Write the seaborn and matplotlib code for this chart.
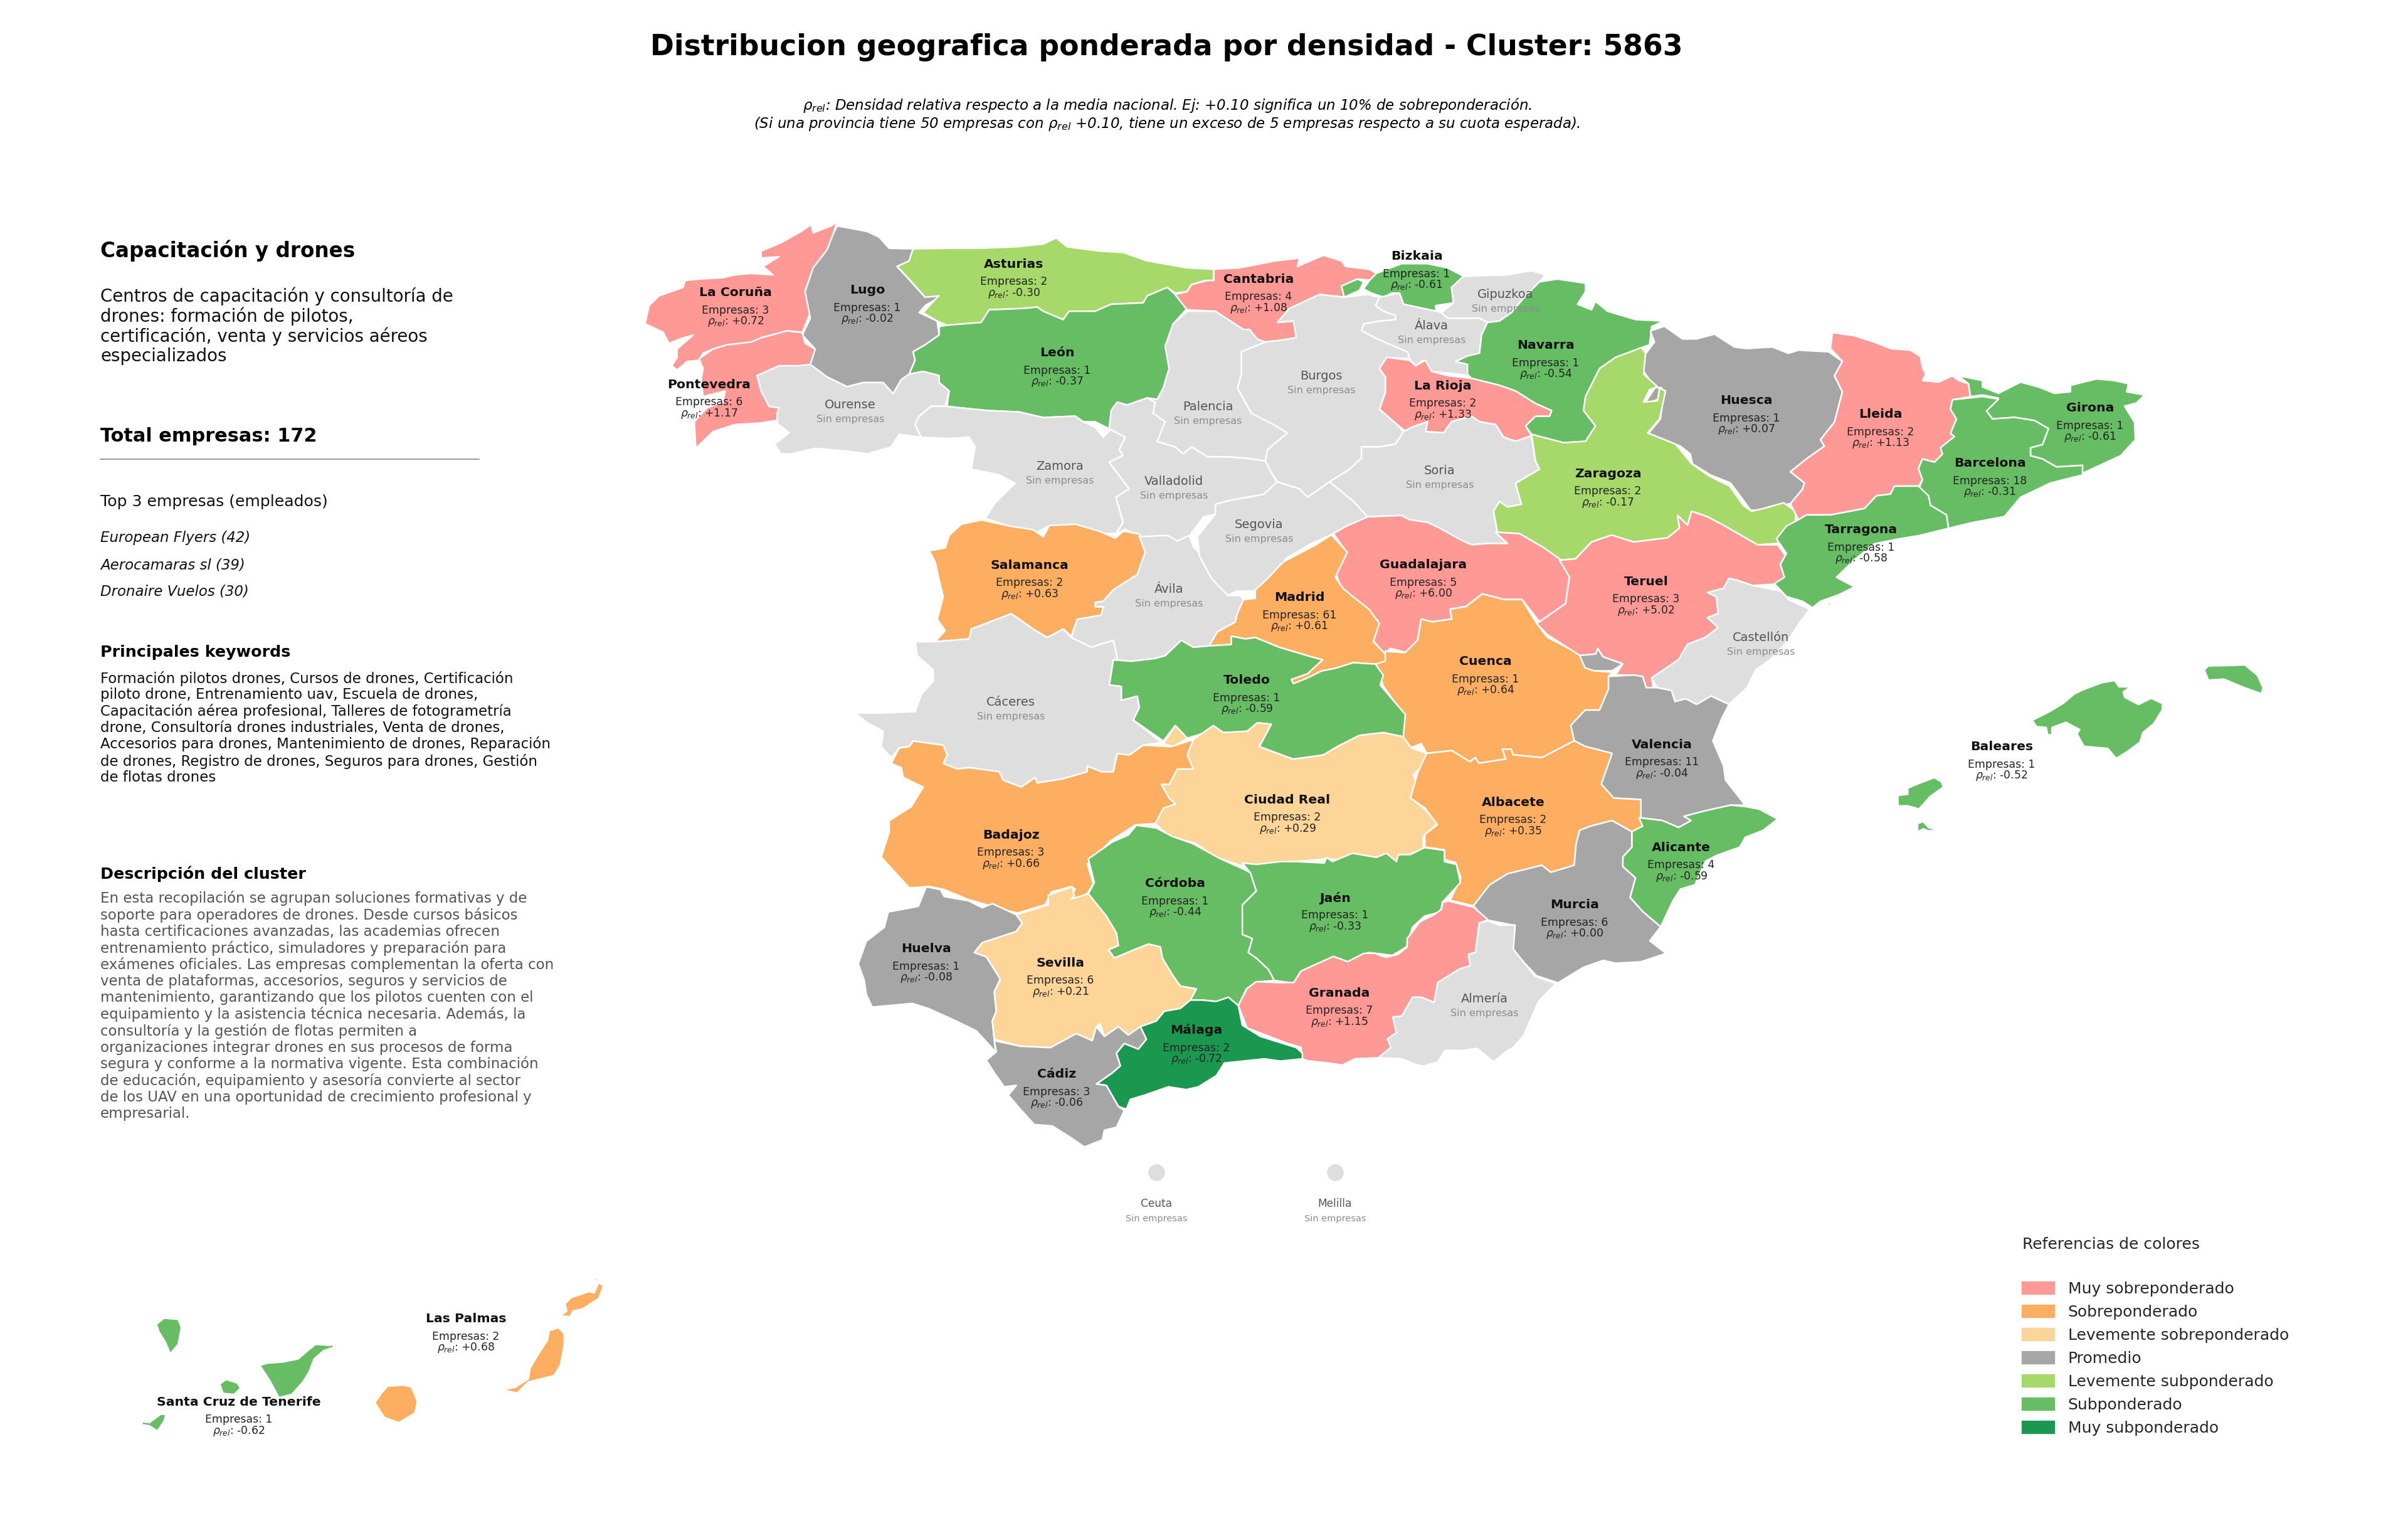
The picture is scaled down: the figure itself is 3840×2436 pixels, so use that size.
"""Distribucion geografica ponderada por densidad - Cluster 5863"""
import matplotlib.pyplot as plt
import matplotlib.patches as mpatches
import pandas as pd
import seaborn as sns

# Provinces, companies, relative density and colour class
provincias = ["La Coruña", "Lugo", "Asturias", "León", "Pontevedra", "Ourense", "Zamora", "Valladolid",
              "Palencia", "Salamanca", "Ávila", "Cantabria", "Bizkaia", "Gipuzkoa", "Álava", "Burgos",
              "Navarra", "La Rioja", "Huesca", "Soria", "Zaragoza", "Segovia", "Guadalajara", "Madrid",
              "Teruel", "Lleida", "Girona", "Barcelona", "Tarragona", "Castellón", "Baleares", "Valencia",
              "Cuenca", "Toledo", "Cáceres", "Ciudad Real", "Badajoz", "Albacete", "Alicante", "Murcia",
              "Almería", "Córdoba", "Jaén", "Huelva", "Sevilla", "Granada", "Málaga", "Cádiz",
              "Las Palmas", "Santa Cruz de Tenerife", "Ceuta", "Melilla"]
empresas = [3, 1, 2, 1, 6, 0, 0, 0,
            0, 2, 0, 4, 1, 0, 0, 0,
            1, 2, 1, 0, 2, 0, 5, 61,
            3, 2, 1, 18, 1, 0, 1, 11,
            1, 1, 0, 2, 3, 2, 4, 6,
            0, 1, 1, 1, 6, 7, 2, 3,
            2, 1, 0, 0]
rho = [0.72, -0.02, -0.30, -0.37, 1.17, None, None, None,
       None, 0.63, None, 1.08, -0.61, None, None, None,
       -0.54, 1.33, 0.07, None, -0.17, None, 6.00, 0.61,
       5.02, 1.13, -0.61, -0.31, -0.58, None, -0.52, -0.04,
       0.64, -0.59, None, 0.29, 0.66, 0.35, -0.59, 0.00,
       None, -0.44, -0.33, -0.08, 0.21, 1.15, -0.72, -0.06,
       0.68, -0.62, None, None]
clases = ["Muy sobreponderado", "Promedio", "Levemente subponderado", "Subponderado", "Muy sobreponderado",
          None, None, None,
          None, "Sobreponderado", None, "Muy sobreponderado", "Subponderado", None, None, None,
          "Subponderado", "Muy sobreponderado", "Promedio", None, "Levemente subponderado", None,
          "Muy sobreponderado", "Sobreponderado",
          "Muy sobreponderado", "Muy sobreponderado", "Subponderado", "Subponderado", "Subponderado", None,
          "Subponderado", "Promedio",
          "Sobreponderado", "Subponderado", None, "Levemente sobreponderado", "Sobreponderado",
          "Sobreponderado", "Subponderado", "Promedio",
          None, "Subponderado", "Subponderado", "Promedio", "Levemente sobreponderado",
          "Muy sobreponderado", "Muy subponderado", "Promedio",
          "Sobreponderado", "Subponderado", None, None]

clases_leyenda = ["Muy sobreponderado", "Sobreponderado", "Levemente sobreponderado", "Promedio",
                  "Levemente subponderado", "Subponderado", "Muy subponderado"]
colores = ["#ff9996", "#fdae61", "#fed598", "#a6a6a6", "#a6d96a", "#66bd63", "#1a9850"]
color_sin = "#dedede"

top_empresas = ["European Flyers (42)", "Aerocamaras sl (39)", "Dronaire Vuelos (30)"]
descripcion_corta = ["Centros de capacitación y consultoría de", "drones: formación de pilotos,",
                     "certificación, venta y servicios aéreos", "especializados"]
keywords = ["Formación pilotos drones, Cursos de drones, Certificación",
            "piloto drone, Entrenamiento uav, Escuela de drones,",
            "Capacitación aérea profesional, Talleres de fotogrametría",
            "drone, Consultoría drones industriales, Venta de drones,",
            "Accesorios para drones, Mantenimiento de drones, Reparación",
            "de drones, Registro de drones, Seguros para drones, Gestión",
            "de flotas drones"]
descripcion = ["En esta recopilación se agrupan soluciones formativas y de",
               "soporte para operadores de drones. Desde cursos básicos",
               "hasta certificaciones avanzadas, las academias ofrecen",
               "entrenamiento práctico, simuladores y preparación para",
               "exámenes oficiales. Las empresas complementan la oferta con",
               "venta de plataformas, accesorios, seguros y servicios de",
               "mantenimiento, garantizando que los pilotos cuenten con el",
               "equipamiento y la asistencia técnica necesaria. Además, la",
               "consultoría y la gestión de flotas permiten a",
               "organizaciones integrar drones en sus procesos de forma",
               "segura y conforme a la normativa vigente. Esta combinación",
               "de educación, equipamiento y asesoría convierte al sector",
               "de los UAV en una oportunidad de crecimiento profesional y",
               "empresarial."]

# Label anchor (pixels of the 3840x2436 picture)
etiquetas = {"La Coruña": (1173, 464), "Lugo": (1383, 460), "Asturias": (1617, 419), "León": (1686, 560),
             "Pontevedra": (1131, 611), "Ourense": (1356, 643), "Zamora": (1690, 741), "Valladolid": (1872, 765),
             "Palencia": (1926, 646), "Salamanca": (1642, 899), "Ávila": (1864, 937), "Cantabria": (2007, 443),
             "Bizkaia": (2259, 406), "Gipuzkoa": (2401, 467), "Álava": (2283, 517), "Burgos": (2107, 597),
             "Navarra": (2465, 548), "La Rioja": (2301, 613), "Huesca": (2785, 636), "Soria": (2296, 748),
             "Zaragoza": (2564, 753), "Segovia": (2008, 834), "Guadalajara": (2270, 898), "Madrid": (2072, 950),
             "Teruel": (2625, 925), "Lleida": (2999, 658), "Girona": (3333, 648), "Barcelona": (3173, 736),
             "Tarragona": (2968, 842), "Castellón": (2808, 1014), "Baleares": (3192, 1188), "Valencia": (2650, 1185),
             "Cuenca": (2369, 1052), "Toledo": (1988, 1082), "Cáceres": (1612, 1117), "Ciudad Real": (2053, 1273),
             "Badajoz": (1612, 1329), "Albacete": (2413, 1277), "Alicante": (2681, 1349), "Murcia": (2511, 1440),
             "Almería": (2367, 1590), "Córdoba": (1874, 1406), "Jaén": (2129, 1429), "Huelva": (1477, 1510),
             "Sevilla": (1691, 1533), "Granada": (2136, 1581), "Málaga": (1908, 1640), "Cádiz": (1685, 1710),
             "Las Palmas": (743, 2100), "Santa Cruz de Tenerife": (381, 2233), "Ceuta": (1844, 1917),
             "Melilla": (2129, 1917)}
ciudades_x = [1844, 2129]
ciudades_y = [1869, 1869]

# Outlines were traced on enlarged sections of the map, each with its own origin and scale
NO = (1000, 320, 0.638, 0.446)
NE = (1900, 320, 0.638, 0.446)
CAT = (2600, 520, 0.638, 0.51)
CEN = (1300, 800, 0.638, 0.446)
LEV = (2100, 900, 0.574, 0.446)
SUR = (1340, 1300, 0.638, 0.446)
SE = (2000, 1300, 0.574, 0.333)
BAL = (3000, 1000, 0.446, 0.333)
CAN = (200, 1990, 0.51, 0.333)


def trace(sec, pts):
    x0, y0, sx, sy = sec
    return [(x0 + a * sx, y0 + b * sy) for a, b in pts]


contornos = {
    "La Coruña": [trace(NO, [(525,75),(515,120),(500,175),(480,235),(462,262),(445,320),(458,400),(438,470),(400,465),(335,490),(310,508),(250,515),(215,530),(190,545),(180,570),(150,575),(125,605),(112,590),(125,560),(125,530),(165,480),(130,495),(105,510),(90,470),(45,440),(55,375),(80,340),(140,310),(145,285),(180,280),(240,275),(270,265),(310,260),(365,265),(340,235),(380,200),(335,205),(335,180),(385,150),(435,110),(460,85),(465,115),(510,90)])],
    "Pontevedra": [trace(NO, [(438,472),(445,510),(470,530),(458,585),(430,590),(380,590),(325,625),(335,680),(355,735),(380,740),(375,785),(330,795),(270,800),(215,825),(172,885),(168,790),(200,740),(240,720),(245,680),(190,700),(185,640),(190,600),(180,565),(215,530),(250,515),(310,505),(335,490),(400,465)])],
    "Lugo": [trace(NO, [(525,90),(545,95),(600,110),(630,130),(655,170),(715,172),(705,215),(675,235),(710,290),(745,345),(775,330),(780,345),(745,375),(730,400),(775,430),(780,480),(745,515),(715,540),(720,570),(705,620),(685,640),(665,690),(640,650),(590,650),(550,665),(500,630),(460,610),(458,585),(470,530),(438,480),(458,420),(445,325),(465,240),(500,175),(515,120)])],
    "Asturias": [trace(NO, [(715,172),(800,170),(880,170),(970,165),(1040,155),(1073,133),(1100,165),(1180,180),(1240,185),(1300,215),(1400,240),(1467,245),(1465,285),(1445,285),(1410,300),(1400,325),(1370,330),(1350,310),(1300,340),(1290,365),(1210,370),(1170,395),(1105,395),(1090,425),(1040,395),(1025,380),(990,385),(905,390),(885,435),(800,445),(775,430),(740,400),(775,345),(780,340),(745,345),(705,280),(675,235),(705,215)])],
    "León": [trace(NO, [(1370,335),(1400,385),(1365,440),(1345,520),(1355,600),(1340,670),(1325,710),(1300,705),(1250,730),(1225,720),(1210,750),(1205,815),(1170,790),(1140,790),(1120,770),(1040,775),(980,755),(900,750),(800,735),(805,680),(780,650),(780,625),(740,610),(705,620),(720,570),(715,540),(745,515),(780,480),(780,450),(800,445),(885,435),(905,390),(990,385),(1025,380),(1040,395),(1090,425),(1105,395),(1170,395),(1210,370),(1290,365),(1300,340),(1350,310)])],
    "Ourense": [trace(NO, [(458,585),(500,630),(550,665),(590,650),(640,650),(665,690),(685,640),(705,620),(740,610),(780,625),(780,650),(805,680),(795,735),(760,735),(730,770),(720,800),(735,845),(680,835),(660,880),(600,905),(550,895),(470,885),(410,905),(385,905),(368,870),(405,830),(375,795),(375,760),(380,740),(355,735),(335,680),(325,625),(380,590),(430,590)])],
    "Zamora": [trace(NO, [(795,735),(900,750),(980,755),(1040,775),(1120,770),(1140,790),(1170,810),(1190,845),(1210,815),(1245,845),(1230,890),(1240,910),(1205,935),(1255,1030),(1222,1060),(1240,1150),(1222,1190),(1185,1190),(1170,1180),(1100,1170),(1050,1165),(1020,1190),(970,1170),(895,1135),(920,1080),(970,1010),(930,980),(860,960),(870,880),(855,845),(800,850),(735,845),(720,800),(730,770),(760,735)])],
    "Valladolid": [trace(NO, [(1205,815),(1210,750),(1225,720),(1250,730),(1300,705),(1320,720),(1315,760),(1345,790),(1325,860),(1370,880),(1390,905),(1411,880),(1451,915),(1500,915),(1546,920),(1596,930),(1606,960),(1626,1010),(1590,1050),(1511,1070),(1471,1085),(1471,1120),(1441,1130),(1410,1190),(1408,1230),(1360,1215),(1285,1200),(1245,1175),(1222,1190),(1240,1150),(1222,1060),(1255,1030),(1205,935),(1240,910),(1230,890),(1245,845)])],
    "Palencia": [trace(NO, [(1400,395),(1450,395),(1510,395),(1540,420),(1568,470),(1575,490),(1596,505),(1536,540),(1536,620),(1526,670),(1561,760),(1601,770),(1616,800),(1651,830),(1601,890),(1596,930),(1546,920),(1500,915),(1451,915),(1411,880),(1390,905),(1370,880),(1325,860),(1345,790),(1315,760),(1320,720),(1300,705),(1325,710),(1340,670),(1355,600),(1345,520),(1365,440)])],
    "Cantabria": [trace(NE, [(56,245),(120,240),(210,215),(270,205),(265,235),(330,195),(375,215),(385,235),(445,245),(462,260),(455,285),(415,280),(375,305),(382,345),(320,335),(245,385),(215,435),(255,430),(262,490),(215,500),(185,505),(165,495),(145,460),(130,460),(60,395),(-11,390),(-41,335),(-11,325),(0,300),(40,285),(56,285)])],
    "Burgos": [trace(NE, [(320,335),(382,345),(440,335),(470,345),(460,375),(480,395),(510,410),(510,425),(470,430),(430,440),(425,465),(465,495),(490,510),(540,540),(545,565),(490,560),(470,600),(485,630),(485,685),(470,745),(510,795),(530,825),(510,870),(470,880),(425,880),(425,920),(395,960),(345,1005),(290,1060),(270,1030),(215,1005),(195,960),(185,930),(190,890),(240,830),(205,800),(150,760),(115,670),(125,620),(125,540),(185,505),(215,500),(262,490),(255,430),(215,435),(245,385)])],
    "Bizkaia": [trace(NE, [(462,260),(525,225),(590,225),(640,240),(680,270),(650,310),(655,365),(610,375),(612,395),(530,370),(520,330),(500,330),(480,345),(450,330),(430,315),(445,285)]),
                trace(NE, [(375,305),(415,280),(430,290),(420,320),(382,345)]),
                trace(NE, [(485,400),(495,390),(510,405),(495,412)])],
    "Gipuzkoa": [trace(NE, [(680,270),(790,265),(850,250),(885,265),(870,290),(835,340),(800,400),(770,430),(740,435),(720,420),(640,420),(625,400),(655,365),(650,310)])],
    "Álava": [trace(NE, [(470,345),(520,330),(530,370),(612,395),(625,400),(640,420),(720,420),(740,435),(725,480),(720,545),(690,560),(660,575),(690,585),(690,625),(670,620),(600,610),(580,570),(560,590),(545,565),(490,510),(465,495),(425,465),(430,440),(470,430),(510,425),(510,410),(480,395),(460,375)])],
    "Navarra": [trace(NE, [(870,290),(915,280),(985,295),(985,325),(965,370),(1000,390),(1010,360),(1040,395),(1110,425),(1180,430),(1150,450),(1145,515),(1125,525),(1060,560),(1020,600),(985,700),(980,750),(1010,805),(985,860),(930,865),(850,835),(835,805),(860,770),(895,770),(900,750),(860,725),(810,680),(770,660),(700,635),(690,620),(690,585),(660,575),(690,555),(720,545),(725,480),(740,435),(770,430),(800,400),(835,340)])],
    "La Rioja": [trace(NE, [(488,560),(545,570),(560,590),(585,570),(600,610),(640,625),(700,635),(770,660),(810,680),(860,725),(900,750),(895,770),(860,770),(835,805),(850,840),(810,860),(780,845),(760,800),(720,790),(700,770),(650,790),(630,830),(585,825),(590,790),(550,810),(535,825),(510,795),(470,745),(485,685),(485,630),(470,600)])],
    "Soria": [trace(NE, [(530,825),(550,810),(590,790),(585,825),(630,830),(650,790),(700,770),(720,790),(760,800),(780,845),(810,860),(850,840),(860,930),(870,960),(810,1010),(825,1085),(790,1095),(770,1075),(755,1110),(765,1185),(790,1225),(740,1225),(700,1230),(670,1210),(620,1170),(590,1150),(545,1140),(525,1125),(440,1130),(405,1075),(345,1005),(395,960),(425,920),(425,880),(470,880),(510,870)])],
    "Segovia": [trace(NE, [(215,1005),(270,1030),(290,1060),(345,1005),(405,1075),(440,1130),(385,1165),(355,1190),(300,1225),(235,1280),(215,1345),(160,1395),(115,1395),(90,1410),(50,1350),(20,1270),(15,1200),(60,1120),(60,1085),(100,1070),(180,1050)])],
    "Guadalajara": [trace(NE, [(355,1190),(385,1165),(440,1130),(525,1125),(545,1140),(590,1150),(620,1170),(670,1210),(700,1230),(740,1225),(790,1225),(760,1185),(820,1190),(880,1240),(920,1280),(945,1345),(935,1440),(870,1505),(826,1425),(781,1425),(727,1405),(686,1450),(646,1460),(650,1495),(601,1505),(574,1495),(565,1570),(538,1615),(497,1600),(484,1620),(452,1570),(466,1500),(421,1450),(375,1385),(360,1330),(385,1250)])],
    "Teruel": [trace(NE, [(920,1285),(960,1280),(1000,1220),(1050,1195),(1105,1220),(1190,1205),(1220,1170),(1215,1125),(1240,1160),(1250,1110),(1290,1130),(1330,1160),(1415,1230),(1465,1230),(1485,1270)]) +
               trace(LEV, [(1305,-40),(1287,0),(1300,45),(1272,70),(1210,75),(1165,55),(1145,50),(1130,85),(1085,100),(1110,115),(1115,175),(1085,190),(1115,225),(1080,260),(1030,285),(1005,340),(930,405),(935,445),(915,440),(905,400),(880,395),(830,395),(850,355),(795,330),(780,300),(775,320),(730,325),(700,300),(640,250),(610,210)]) +
               trace(NE, [(870,1505),(935,1440),(945,1345)])],
    "Zaragoza": [trace(NE, [(850,835),(930,865),(985,860),(1010,805),(980,750),(985,700),(1020,600),(1060,560),(1125,525),(1135,545),(1130,620),(1165,665),(1145,675),(1130,720),(1165,715),(1170,670),(1185,680),(1170,780),(1140,830),(1210,870),(1250,940),(1295,985),(1345,1020),(1380,1090),(1400,1110),(1430,1100),(1480,1080),(1510,1110),(1510,1160),(1465,1225),(1415,1230),(1330,1160),(1290,1130),(1250,1110),(1240,1160),(1215,1125),(1220,1170),(1190,1205),(1105,1220),(1050,1195),(1000,1220),(960,1280),(920,1285),(880,1240),(820,1190),(765,1185),(755,1110),(770,1075),(790,1095),(825,1085),(810,1010),(870,960),(860,930)])],
    "Huesca": [trace(CAT, [(50,15),(85,0),(130,40),(165,40),(210,25),(260,65),(290,70),(355,65),(395,85),(420,75),(495,80),(530,110),(510,155),(530,205),(510,300),(475,355),(485,375),(440,415),(400,455),(435,490),(430,510),(400,555),(345,565),(330,575),(300,575),(280,540),(250,490),(200,465),(155,430),(150,400),(125,375),(45,335),(75,290),(85,200),(60,190),(30,135),(30,100),(60,50)]),
               trace(CAT, [(62,192),(78,192),(72,228),(35,242)])],
    "Lleida": [trace(CAT, [(505,20),(560,30),(610,50),(650,70),(700,75),(725,95),(730,130),(738,150),(730,170),(770,175),(805,155),(820,170),(845,180),(850,220),(805,230),(800,260),(815,290),(800,335),(810,345),(775,380),(780,400),(760,425),(730,415),(720,445),(730,480),(720,500),(660,500),(650,525),(615,530),(585,570),(500,590),(440,590),(420,605),(400,555),(430,510),(435,490),(400,455),(440,415),(485,375),(475,355),(510,300),(530,205),(510,155),(530,110),(500,70)])],
    "Girona": [trace(CAT, [(820,155),(880,170),(880,190),(920,210),(975,175),(1020,190),(1060,210),(1100,205),(1100,185),(1165,165),(1210,170),(1245,180),(1240,205),(1285,215),(1265,240),(1235,250),(1260,300),(1262,355),(1225,405),(1190,425),(1130,460),(1130,435),(1065,440),(1030,415),(1000,405),(1000,380),(1030,370),(1045,320),(1010,295),(960,285),(905,290),(890,265),(920,225),(880,215),(850,220),(845,180)])],
    "Barcelona": [trace(CAT, [(805,230),(880,220),(920,228),(890,265),(905,290),(960,285),(1010,295),(1045,320),(1030,370),(1000,380),(1000,405),(1030,415),(1065,440),(1130,435),(1130,465),(1050,490),(975,535),(935,595),(850,615),(795,632),(790,590),(750,560),(745,530),(720,510),(730,480),(720,445),(730,415),(760,425),(780,400),(775,380),(810,345),(800,335),(815,290),(800,260)])],
    "Tarragona": [trace(CAT, [(720,500),(745,530),(750,560),(790,590),(795,632),(720,655),(670,665),(610,680),(560,730),(515,785),(560,815),(520,840),(475,860),(455,880),(430,860),(390,845),(360,805),(385,785),(375,745),(390,710),(365,665),(390,625),(420,605),(440,590),(500,590),(585,570),(615,530),(650,525),(660,500)]),
                  trace(CAT, [(488,868),(510,863),(497,873)])],
    "Castellón": [trace(LEV, [(1145,50),(1165,55),(1210,75),(1290,95),(1310,125),(1370,160),(1340,210),(1310,270),(1260,340),(1220,375),(1195,440),(1145,500),(1095,470),(1055,500),(1025,480),(995,490),(985,450),(945,440),(930,405),(1005,340),(1030,285),(1080,260),(1115,225),(1085,190),(1115,175),(1110,115),(1085,100),(1130,85)])],
    "Baleares": [trace(BAL, [(540,445),(600,405),(650,365),(690,320),(720,300),(790,265),(835,255),(850,285),(890,285),(865,310),(870,335),(920,370),(965,340),(1005,365),(1005,395),(975,460),(935,505),(925,550),(880,595),(840,628),(810,580),(725,570),(700,510),(710,490),(660,455),(610,480),(610,515),(595,515),(590,480),(555,475)]),
                 trace(BAL, [(1155,205),(1170,185),(1250,183),(1300,180),(1345,230),(1365,290),(1360,318),(1300,290),(1225,248),(1170,253)]),
                 trace(BAL, [(60,805),(95,800),(95,770),(140,745),(190,720),(215,740),(222,765),(175,810),(135,870),(95,855),(60,855)]),
                 trace(BAL, [(130,940),(150,930),(170,960),(205,968),(170,975),(150,965),(130,980)]),
                 trace(BAL, [(783,702),(793,705),(785,708)])],
    "Valencia": [trace(LEV, [(810,400),(880,395),(905,400),(915,440),(945,440),(985,450),(995,490),(1025,480),(1055,500),(1095,470),(1145,500),(1125,550),(1100,630),(1130,720),(1135,770),(1190,860),(1150,860),(1080,880),(1020,900),(1040,915),(1005,940),(960,915),(900,905),(900,840),(825,835),(790,785),(820,675),(745,650),(715,630),(705,575),(745,520),(785,520),(810,445)]),
                 trace(LEV, [(730,325),(775,320),(780,300),(795,330),(850,355),(820,380),(770,380),(745,370)])],
    "Alicante": [trace(LEV, [(1190,865),(1230,875),(1280,910),(1240,950),(1190,975),(1175,1010),(1110,1040),(1080,1060),(1050,1145),(1010,1160),(990,1200),(955,1295),(905,1240),(870,1190),(885,1120),(850,1080),(850,1045),(875,1010),(875,955),(905,935),(895,905),(960,915),(1005,940),(1040,915),(1020,900),(1080,880),(1150,860)])],
    "Murcia": [trace(LEV, [(820,915),(875,955),(875,1010),(850,1045),(850,1080),(885,1120),(870,1190),(905,1240),(955,1295),(925,1345),(970,1390),(900,1420),(830,1425),(795,1415),(740,1440),(670,1495),(610,1470),(545,1380),(550,1290),(470,1270),(435,1220),(480,1145),(530,1105),(625,1075),(650,1100),(715,1075),(720,1000),(730,950),(760,935)])],
    "Cuenca": [trace(LEV, [(290,195),(320,205),(375,195),(370,160),(415,150),(460,105),(520,125),(570,125),(610,210),(640,260),(700,300),(730,325),(745,370),(770,380),(820,385),(810,400),(810,445),(785,520),(745,520),(705,575),(715,630),(625,690),(545,680),(540,660),(515,660),(525,695),(450,710),(440,690),(425,705),(375,665),(305,675),(290,640),(260,655),(240,620),(240,535),(185,435),(165,355),(190,345),(190,310),(245,315),(280,270)])],
    "Albacete": [trace(LEV, [(305,675),(375,665),(425,705),(440,690),(450,710),(525,695),(515,660),(540,660),(545,680),(625,690),(715,630),(745,650),(820,675),(790,785),(825,835),(900,840),(900,905),(905,935),(875,955),(820,915),(760,935),(730,950),(720,1000),(715,1075),(650,1100),(625,1075),(530,1105),(480,1145),(435,1220),(370,1200),(400,1120),(385,1065),(355,1055),(355,1020),(300,1010),(300,965),(335,930),(300,870),(260,835),(280,745)])],
    "Almería": [trace(SE, [(625,515),(650,505),(680,525),(725,525),(720,640),(780,770),(838,805),(790,890),(750,1050),(720,1110),(700,1130),(665,1180),(620,1115),(580,1125),(530,1125),(510,1180),(470,1200),(445,1190),(410,1165),(345,1160),(380,1110),(370,1070),(395,1040),(385,965),(410,960),(440,870),(465,870),(500,895),(510,800),(570,735),(600,720),(595,665),(615,655)])],
    "Granada": [trace(SE, [(540,410),(610,440),(650,500),(625,515),(615,655),(595,665),(600,720),(570,735),(510,800),(500,895),(465,870),(440,870),(410,960),(385,965),(395,1040),(370,1070),(380,1110),(345,1160),(280,1165),(245,1195),(205,1185),(150,1175),(134,1165),(130,1110),(90,1090),(-20,1017),(-44,910),(-20,830),(5,796),(65,800),(110,800),(130,745),(220,675),(260,700),(305,660),(335,660),(365,680),(400,665),(425,630),(425,590),(460,510),(500,475),(520,450),(525,415)])],
    "Jaén": [trace(SUR, [(1005,170),(1040,175),(1100,165),(1140,165),(1210,170),(1215,150),(1230,165),(1280,135),(1340,150),(1365,135),(1390,165),(1395,140),(1425,140),(1460,115),(1510,125),(1510,165),(1540,175),(1550,240),(1505,310),(1500,345),(1460,360),(1430,400),(1415,470),(1380,500),(1320,490),(1270,525),(1235,505),(1170,550),(1135,600),(1085,590),(1070,550),(1040,510),(1020,490),(1030,440),(1005,425),(1005,320),(1040,270),(1025,205)])],
    "Córdoba": [trace(SUR, [(740,35),(790,45),(830,75),(880,100),(950,155),(1005,190),(1025,205),(1040,270),(1005,320),(1005,425),(1030,440),(1020,490),(1040,510),(1070,550),(1085,590),(1040,595),(1015,620),(995,680),(970,650),(940,665),(905,660),(875,660),(890,620),(850,610),(830,570),(805,510),(800,470),(770,460),(735,480),(685,510),(670,480),(695,465),(690,420),(665,360),(620,280),(635,240),(620,155),(680,95),(720,70)])],
    "Sevilla": [trace(SUR, [(440,355),(520,320),(520,285),(580,255),(585,290),(575,300),(620,280),(665,360),(690,420),(695,465),(670,480),(685,510),(735,480),(770,460),(800,470),(805,510),(830,570),(850,610),(890,620),(875,660),(850,690),(810,700),(790,735),(750,755),(720,785),(695,755),(660,790),(650,745),(640,755),(630,805),(590,780),(525,830),(450,825),(385,800),(380,735),(390,700),(385,630),(400,585),(365,505),(335,490),(355,455),(440,415),(455,385)])],
    "Huelva": [trace(SUR, [(215,255),(250,265),(260,290),(320,305),(355,330),(380,315),(440,355),(455,385),(440,415),(355,455),(335,490),(365,505),(400,585),(385,630),(390,700),(380,735),(385,800),(388,845),(340,770),(290,735),(220,690),(180,672),(80,685),(65,640),(60,590),(45,530),(65,450),(110,400),(120,345),(195,325)])],
    "Cádiz": [trace(SUR, [(385,805),(450,825),(525,830),(590,780),(630,805),(640,755),(660,790),(695,755),(720,785),(750,755),(765,800),(745,835),(710,815),(690,850),(700,895),(680,920),(640,960),(665,965),(695,1040),(710,1055),(690,1115),(660,1125),(655,1160),(610,1185),(580,1155),(530,1110),(485,1105),(450,1050),(420,1000),(440,965),(410,970),(385,920),(365,875),(390,845)])],
    "Málaga": [trace(SUR, [(875,660),(905,660),(940,665),(970,650),(995,680),(1005,750),(1050,790),(1140,830),(1155,850),(1155,870),(1100,878),(1060,870),(960,885),(940,930),(895,970),(865,980),(820,970),(760,1000),(725,1015),(715,1050),(695,1040),(665,965),(640,960),(680,920),(700,895),(690,850),(710,815),(745,835),(765,800),(750,755),(790,735),(810,700),(850,690)])],
    "Badajoz": [trace(CEN, [(245,855),(320,870),(330,905),(320,935),(355,955),(385,950),(460,965),(470,995),(515,1020),(550,985),(555,1005),(620,990),(680,965),(680,945),(715,965),(745,965),(755,900),(785,905),(820,870),(890,875),(945,850),(930,905),(945,955),(905,955),(885,1010),(865,1010),(885,1060),(900,1080),(870,1095),(850,1150),(800,1155),(740,1210),(680,1295),(695,1365),(680,1400),(650,1420),(635,1420),(650,1385),(640,1375),(590,1395),(575,1440),(505,1470),(450,1450),(380,1420),(320,1385),(285,1375),(235,1380),(165,1270),(185,1180),(185,1140),(240,1090),(270,1020),(220,985),(215,950),(190,935),(210,880),(235,875)])],
    "Cáceres": [trace(CEN, [(250,500),(300,500),(385,490),(390,455),(490,400),(530,440),(550,460),(580,485),(620,455),(640,485),(690,520),(745,495),(755,560),(745,565),(735,655),(765,660),(765,710),(805,695),(810,735),(795,780),(865,860),(820,870),(785,905),(755,900),(745,965),(715,965),(680,945),(680,965),(620,990),(555,1005),(550,985),(515,1020),(470,995),(460,965),(385,950),(355,955),(320,935),(330,905),(320,870),(245,855),(235,875),(210,880),(190,915),(165,875),(170,820),(130,790),(100,755),(165,755),(250,750),(265,690),(295,640),(295,600),(255,550)])],
    "Salamanca": [trace(CEN, [(415,65),(480,85),(545,100),(570,125),(585,85),(650,80),(710,105),(750,130),(770,105),(810,115),(825,180),(805,260),(745,315),(720,355),(700,360),(700,375),(720,375),(715,405),(655,420),(640,480),(620,455),(580,485),(550,460),(530,440),(490,400),(390,455),(385,490),(300,500),(325,460),(305,420),(320,340),(310,280),(300,215),(285,175),(325,165),(335,120),(365,80)])],
    "Ávila": [trace(CEN, [(810,125),(880,120),(905,140),(935,120),(945,160),(985,220),(1025,290),(1030,335),(1060,335),(1070,350),(1055,400),(1050,430),(1005,465),(985,515),(945,520),(915,495),(875,550),(850,560),(790,570),(745,565),(755,560),(745,495),(690,520),(640,485),(655,420),(715,405),(720,375),(700,375),(700,360),(720,355),(745,315),(805,260),(825,180)])],
    "Madrid": [trace(CEN, [(1290,118),(1330,180),(1300,270),(1320,310),(1345,340),(1385,385),(1410,435),(1395,500),(1425,545),(1430,575),(1400,580),(1345,575),(1300,595),(1265,605),(1230,630),(1195,650),(1190,635),(1230,615),(1268,565),(1230,550),(1160,520),(1100,485),(1075,490),(1040,480),(1040,510),(985,515),(1005,465),(1050,430),(1055,400),(1070,350),(1100,345),(1100,315),(1130,275),(1170,215),(1250,155)])],
    "Toledo": [trace(CEN, [(745,565),(790,570),(850,560),(875,550),(915,495),(945,520),(985,515),(1040,510),(1040,480),(1075,490),(1100,485),(1160,520),(1230,550),(1268,565),(1230,615),(1190,635),(1195,650),(1230,630),(1265,605),(1300,595),(1345,575),(1400,580),(1420,620),(1412,655),(1475,760),(1470,840),(1420,825),(1360,835),(1305,875),(1270,905),(1195,920),(1110,875),(1140,795),(1105,790),(1080,820),(1020,825),(995,800),(965,830),(930,845),(900,800),(870,855),(795,780),(810,735),(805,695),(765,710),(765,660),(735,655)])],
    "Ciudad Real": [trace(CEN, [(945,850),(965,830),(995,800),(1020,825),(1080,820),(1105,790),(1140,795),(1110,875),(1195,920),(1270,905),(1305,875),(1360,835),(1420,825),(1470,840),(1490,880),(1530,900),(1530,925),(1495,975),(1505,1020),(1490,1060),(1525,1100),(1555,1150),(1520,1195),(1520,1240),(1445,1285),(1430,1260),(1390,1275),(1340,1260),(1310,1280),(1280,1275),(1250,1280),(1170,1290),(1075,1305),(1000,1270),(950,1220),(885,1195),(850,1150),(870,1095),(900,1080),(885,1060),(865,1010),(885,1010),(905,955),(945,955),(930,905)]),
                    trace(CEN, [(900,800),(930,845),(895,875),(870,865)])],
    "Las Palmas": [trace(CAN, [(780,740),(800,695),(820,660),(870,655),(895,665),(913,735),(905,790),(855,835),(810,810)]),
                   trace(CAN, [(1178,678),(1220,665),(1260,625),(1265,575),(1290,510),(1320,440),(1325,395),(1355,380),(1372,410),(1372,465),(1360,560),(1340,610),(1260,640),(1225,693)]),
                   trace(CAN, [(1360,323),(1380,300),(1375,265),(1395,235),(1450,207),(1465,215),(1480,165),(1495,180),(1480,240),(1430,290),(1400,300),(1390,328)]),
                   trace(CAN, [(1465,155),(1475,137),(1478,155)])],
    "Santa Cruz de Tenerife": [trace(CAN, [(97,365),(120,335),(165,340),(175,380),(165,460),(140,505),(125,450),(105,400)]),
                               trace(CAN, [(420,560),(445,550),(490,545),(540,530),(570,490),(595,460),(640,465),(650,458),(650,475),(620,490),(590,530),(575,590),(555,640),(520,700),(480,715),(450,630)]),
                               trace(CAN, [(295,650),(315,628),(350,645),(360,670),(340,700),(305,695)]),
                               trace(CAN, [(52,830),(75,835),(110,795),(127,795),(120,830),(100,875),(75,850),(52,845)])],
    "Ceuta": [trace(SUR, [(770,1102),(780,1108),(775,1112)])],
    "Melilla": [trace(SUR, [(1248,1145),(1255,1150),(1250,1158)])],
}

sns.set_theme(style="white", font="DejaVu Sans")
plt.rcParams["font.family"] = ["DejaVu Sans"]
plt.rcParams["mathtext.fontset"] = "dejavusans"

paleta = dict(zip(clases_leyenda, sns.color_palette(colores)))

fig = plt.figure(figsize=(16, 10.15), dpi=240)
ax = fig.add_axes([0, 0, 1, 1])


def txt(x, y, s, **kw):
    ax.text(x, y + 2.5, s, va="center", **kw)


for nombre, clase in zip(provincias, clases):
    color = paleta[clase] if clase else color_sin
    for parte in contornos.get(nombre, []):
        xs, ys = zip(*parte)
        ax.fill(xs, ys, facecolor=color, edgecolor="white", linewidth=0.75, joinstyle="round", zorder=2)

# Ceuta and Melilla are shown as dots
df_ciudades = pd.DataFrame({"x": ciudades_x, "y": ciudades_y})
sns.scatterplot(data=df_ciudades, x="x", y="y", ax=ax, s=64, color=color_sin, linewidth=0, zorder=2)
ax.set_xlim(0, 3840)
ax.set_ylim(2436, 0)
ax.set_axis_off()

for nombre, n, r in zip(provincias, empresas, rho):
    x, y = etiquetas[nombre]
    if nombre in ("Ceuta", "Melilla"):
        txt(x, y, nombre, ha="center", fontsize=5.1, color="#555555", zorder=5)
        txt(x, y + 23, "Sin empresas", ha="center", fontsize=4.35, color="#8c8c8c", zorder=5)
    elif r is None:
        txt(x, y, nombre, ha="center", fontsize=5.8, color="#555555", zorder=5)
        txt(x, y + 23, "Sin empresas", ha="center", fontsize=4.8, color="#8c8c8c", zorder=5)
    else:
        txt(x, y, nombre, ha="center", fontsize=6.1, fontweight="bold", color="#111111", zorder=5)
        txt(x, y + 28, f"Empresas: {n}", ha="center", fontsize=5.2, color="#222222", zorder=5)
        txt(x, y + 46, rf"$\rho_{{rel}}$: {r:+.2f}", ha="center", fontsize=5.2, color="#222222", zorder=5)

# Title and note
txt(1860, 73, "Distribucion geografica ponderada por densidad - Cluster: 5863",
    ha="center", fontsize=13.7, fontweight="bold", color="black")
txt(1861, 166, r"$\rho_{rel}$: Densidad relativa respecto a la media nacional. Ej: +0.10 significa un 10% de sobreponderación.",
    ha="center", fontsize=6.85, style="italic", color="black")
txt(1861, 195, r"(Si una provincia tiene 50 empresas con $\rho_{rel}$ +0.10, tiene un exceso de 5 empresas respecto a su cuota esperada).",
    ha="center", fontsize=6.85, style="italic", color="black")

# Left panel
txt(160, 397, "Capacitación y drones", fontsize=9.8, fontweight="bold", color="black")
for y, linea in zip([470, 501.5, 534, 565], descripcion_corta):
    txt(160, y, linea, fontsize=8.3, color="#111111")
txt(160, 693, "Total empresas: 172", fontsize=9.1, fontweight="bold", color="black")
ax.plot([160, 764], [732, 732], color="#999999", linewidth=0.6)
txt(160, 798, "Top 3 empresas (empleados)", fontsize=7.55, color="#111111")
for y, linea in zip([855, 898, 941], top_empresas):
    txt(160, y, linea, fontsize=6.85, style="italic", color="#111111")
txt(160, 1037, "Principales keywords", fontsize=7.6, fontweight="bold", color="black")
for y, linea in zip([1080, 1105, 1132, 1158, 1184, 1212, 1237], keywords):
    txt(160, y, linea, fontsize=6.85, color="#111111")
txt(160, 1391, "Descripción del cluster", fontsize=7.6, fontweight="bold", color="black")
for i, linea in enumerate(descripcion):
    txt(160, 1430 + i * 26.4, linea, fontsize=6.85, color="#555555")

# Legend
handles = [mpatches.Patch(color=paleta[c], label=c) for c in clases_leyenda]
leg = ax.legend(handles=handles, title="Referencias de colores", loc="upper left",
                bbox_to_anchor=(3225, 1972), bbox_transform=ax.transData, frameon=False,
                fontsize=7.5, title_fontsize=7.5, alignment="left", borderpad=0, borderaxespad=0,
                labelspacing=0.52, handletextpad=0.9)
leg._legend_box.sep = 14

fig.savefig("out.png", dpi=240, facecolor="white")
